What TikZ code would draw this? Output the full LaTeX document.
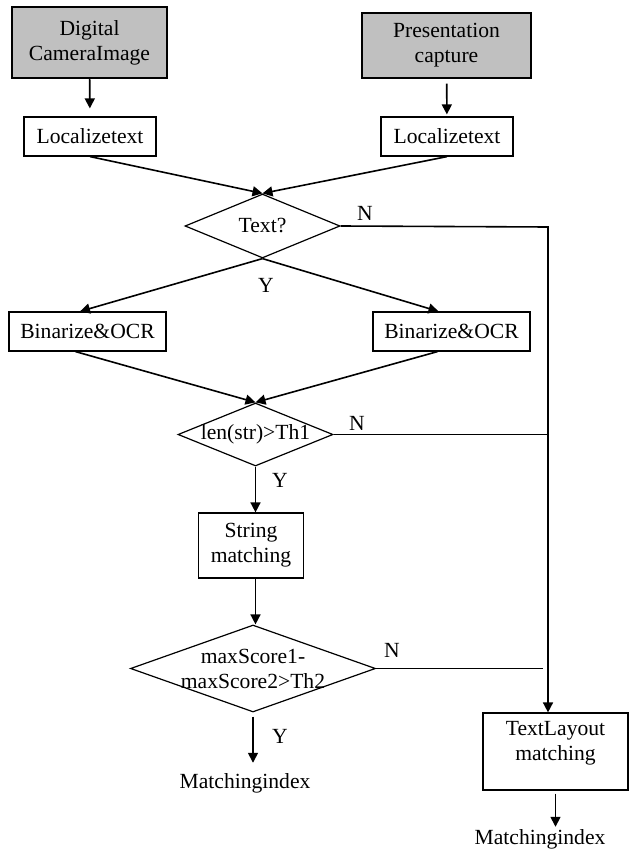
\documentclass[tikz,border=0pt]{standalone}
\usepackage{fontspec}
\setmainfont{Liberation Serif}
\usetikzlibrary{shapes.geometric,arrows.meta}

\definecolor{boxgray}{RGB}{192,192,192}

\begin{document}
\begin{tikzpicture}[
        x=0.5pt, y=-0.5pt,
        >={Triangle[length=5pt,width=5pt]},
        every node/.style={font=\fontsize{10.8}{12.5}\selectfont},
        block/.style={draw, line width=0.6pt, align=center, inner sep=0pt},
        source/.style={block, fill=boxgray},
        decision/.style={draw, diamond, line width=0.6pt, align=center, inner sep=-2pt},
        answer/.style={inner sep=1pt},
        flow/.style={->, line width=0.8pt},
        wire/.style={line width=0.6pt}
        ]
    \useasboundingbox (0,0) rectangle (629,850);

    % inputs
    \node[source, minimum width=77.5pt, minimum height=35.5pt] (cam) at (89.5,42.5) {Digital\\CameraImage};
    \node[source, minimum width=84.5pt, minimum height=32.5pt] (pres) at (446.5,45.5) {Presentation\\capture};
    \node[block, minimum width=66pt, minimum height=19.5pt] (loc1) at (90,136.5) {Localizetext};
    \node[block, minimum width=66pt, minimum height=19.5pt] (loc2) at (447,136.5) {Localizetext};

    % text branch
    \node[decision, minimum width=77.5pt, minimum height=32pt, shape aspect=2.4] (txt) at (262.5,226) {Text?};
    \node[block, minimum width=78.5pt, minimum height=19.5pt] (bin1) at (87.5,331.5) {Binarize\&OCR};
    \node[block, minimum width=78.5pt, minimum height=19.5pt] (bin2) at (451.5,331.5) {Binarize\&OCR};
    \node[decision, minimum width=77.5pt, minimum height=31.5pt, shape aspect=2.4] (len) at (255.5,434.5) {len(str)>Th1};
    \node[block, minimum width=52.5pt, minimum height=32.5pt] (str) at (251,545.5) {String\\matching};
    \node[decision, minimum width=122.5pt, minimum height=43.5pt, shape aspect=2.8] (maxs) at (253,668.5) {maxScore1-\\maxScore2>Th2};
    \node[answer] (out1) at (245,783) {Matchingindex};

    % layout branch
    \node[block, minimum width=72.5pt, minimum height=38.5pt, text depth=11pt] (lay) at (555.5,751.5) {TextLayout\\matching};
    \node[answer] (out2) at (540,839) {Matchingindex};
    \coordinate (bus) at (548,227);

    % labels
    \node (no1) at (365,213) {N};
    \node (no2) at (357,423) {N};
    \node (no3) at (392,650) {N};
    \node (yes1) at (266,285) {Y};
    \node (yes2) at (280,480) {Y};
    \node (yes3) at (280,736) {Y};

    \draw[flow, shorten >=4pt] (cam) -- (loc1);
    \draw[flow, shorten <=2.5pt, shorten >=1pt] (pres) -- (loc2);
    \draw[flow] (loc1.south) -- (txt.north);
    \draw[flow] (loc2.south) -- (txt.north);
    \draw[flow] (txt.south) -- ([xshift=-3.75pt]bin1.north);
    \draw[flow] (txt.south) -- ([xshift=-6.5pt]bin2.north);
    \draw[flow] ([xshift=-6pt]bin1.south) -- (len.north);
    \draw[flow] ([xshift=-7pt]bin2.south) -- (len.north);
    \draw[flow] (len.south) -- (len.south |- str.north);
    \draw[flow] (len.south |- str.south) -- (len.south |- maxs.north);
    \draw[flow, shorten <=2pt, shorten >=4pt] (maxs.south) -- (maxs.south |- out1.north);

    \draw[flow] (txt.east) -- (bus) -- (bus |- lay.north);
    \draw[wire] (len.east) -- (bus |- len.east);
    \draw[wire] (maxs.east) -- ([xshift=-2.5pt]bus |- maxs.east);
    \draw[flow, shorten <=1.5pt] (lay.south) -- (lay.south |- out2.north);
\end{tikzpicture}
\end{document}
